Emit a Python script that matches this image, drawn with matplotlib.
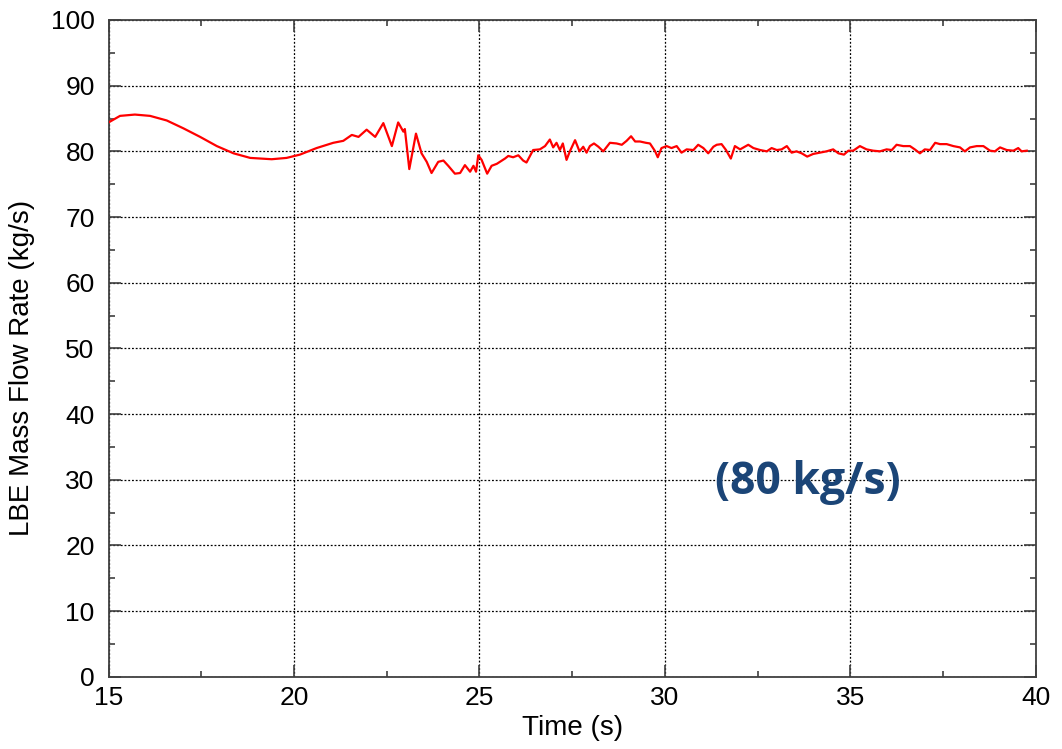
import matplotlib
matplotlib.use("Agg")
import matplotlib.pyplot as plt
from matplotlib.ticker import MultipleLocator

# values
time_s = [
    15.00, 15.31, 15.71, 16.12, 16.57, 17.02, 17.47, 17.92, 18.37, 18.82,
    19.40, 19.80, 20.16, 20.61, 21.06, 21.33, 21.56, 21.74, 21.96, 22.19,
    22.41, 22.64, 22.81, 22.95, 22.99, 23.11, 23.29, 23.44, 23.58, 23.71,
    23.89, 24.03, 24.16, 24.34, 24.48, 24.61, 24.75, 24.84, 24.91, 24.97,
    25.06, 25.21, 25.33, 25.47, 25.69, 25.78, 25.91, 26.05, 26.18, 26.27,
    26.45, 26.63, 26.77, 26.90, 26.99, 27.08, 27.17, 27.25, 27.35, 27.44,
    27.58, 27.70, 27.80, 27.89, 27.98, 28.09, 28.21, 28.34, 28.52, 28.70,
    28.84, 28.97, 29.09, 29.20, 29.33, 29.49, 29.60, 29.74, 29.81, 29.91,
    30.05, 30.18, 30.32, 30.45, 30.59, 30.77, 30.90, 31.04, 31.17, 31.31,
    31.40, 31.53, 31.65, 31.78, 31.89, 32.03, 32.25, 32.39, 32.57, 32.75,
    32.88, 33.02, 33.15, 33.29, 33.42, 33.55, 33.69, 33.84, 34.00, 34.18,
    34.36, 34.54, 34.68, 34.83, 34.95, 35.08, 35.26, 35.44, 35.62, 35.80,
    35.98, 36.12, 36.25, 36.43, 36.61, 36.74, 36.88, 37.01, 37.15, 37.29,
    37.42, 37.60, 37.78, 37.96, 38.09, 38.23, 38.41, 38.59, 38.77, 38.90,
    39.04, 39.22, 39.40, 39.53, 39.62, 39.76,
]
flow_kgs = [
    84.4, 85.4, 85.6, 85.4, 84.7, 83.5, 82.2, 80.8, 79.7, 79.0,
    78.8, 79.0, 79.5, 80.5, 81.3, 81.6, 82.5, 82.2, 83.3, 82.2,
    84.3, 80.8, 84.4, 83.0, 83.4, 77.3, 82.7, 79.7, 78.4, 76.7,
    78.4, 78.6, 77.8, 76.6, 76.7, 77.9, 76.9, 77.8, 76.9, 79.4,
    78.7, 76.6, 77.8, 78.1, 78.9, 79.3, 79.1, 79.4, 78.6, 78.3,
    80.2, 80.3, 80.8, 81.8, 80.6, 81.3, 80.2, 81.2, 78.7, 80.0,
    81.7, 80.0, 80.7, 79.8, 80.8, 81.2, 80.7, 80.0, 81.3, 81.2,
    81.0, 81.6, 82.3, 81.5, 81.5, 81.3, 81.2, 80.0, 79.1, 80.5,
    80.8, 80.5, 80.8, 79.8, 80.3, 80.2, 81.0, 80.5, 79.7, 80.7,
    81.0, 81.1, 80.2, 78.9, 80.8, 80.3, 81.0, 80.5, 80.2, 80.0,
    80.5, 80.2, 80.3, 80.8, 79.8, 80.0, 79.7, 79.2, 79.6, 79.8,
    80.0, 80.3, 79.7, 79.5, 80.1, 80.1, 80.8, 80.3, 80.1, 80.0,
    80.3, 80.2, 81.0, 80.8, 80.8, 80.3, 79.7, 80.3, 80.2, 81.3,
    81.1, 81.1, 80.8, 80.6, 80.0, 80.6, 80.8, 80.8, 80.1, 80.0,
    80.6, 80.2, 80.1, 80.5, 80.0, 80.1,
]

x_ticks = [15, 20, 25, 30, 35, 40]
y_ticks = [0, 10, 20, 30, 40, 50, 60, 70, 80, 90, 100]
note = "(80 kg/s)"

plt.rcParams["font.family"] = ["Liberation Sans", "DejaVu Sans"]

fig = plt.figure(figsize=(10.62, 7.49), dpi=100, facecolor="white")
ax = fig.add_axes([0.1022, 0.0965, 0.8730, 0.8768])

ax.plot(time_s, flow_kgs, color="#ff0000", linewidth=1.6, zorder=3)

ax.set_xlim(15, 40)
ax.set_ylim(0, 100)
ax.set_xticks(x_ticks)
ax.set_yticks(y_ticks)
ax.xaxis.set_minor_locator(MultipleLocator(2.5))
ax.yaxis.set_minor_locator(MultipleLocator(5))

ax.grid(True, which="major", color="black", linestyle=(0, (1.5, 1.5)), linewidth=0.9)
ax.tick_params(which="both", direction="in", top=True, right=True, color="#404040", width=1.2)
ax.tick_params(which="major", length=8.5, labelsize=19)
ax.tick_params(which="minor", length=4.3)
ax.tick_params(axis="x", which="major", pad=7)
ax.tick_params(axis="y", which="major", pad=10)
for spine in ax.spines.values():
    spine.set_color("#404040")
    spine.set_linewidth(1.3)

ax.set_xlabel("Time (s)", fontsize=20)
ax.set_ylabel("LBE Mass Flow Rate (kg/s)", fontsize=20)
ax.xaxis.set_label_coords(0.5, -0.059)
ax.yaxis.set_label_coords(-0.079, 0.47)

ax.text(33.86, 29.5, note, ha="center", va="center", fontsize=32,
        fontweight="bold", color="#1b4577", family=["Open Sans", "DejaVu Sans"])

fig.savefig("out.png", dpi=100, facecolor="white")
